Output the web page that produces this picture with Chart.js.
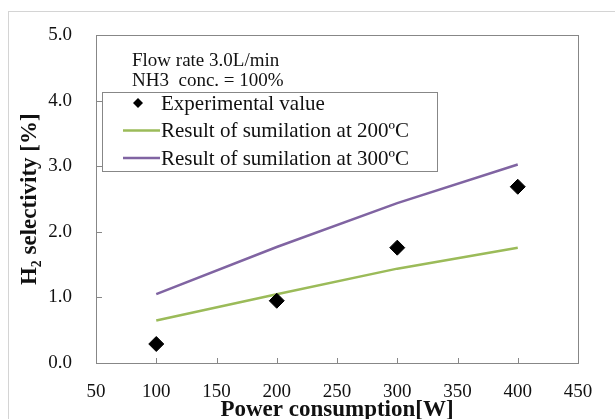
<!DOCTYPE html>
<html>
<head>
<meta charset="utf-8">
<script src="https://cdn.jsdelivr.net/npm/chart.js@4/dist/chart.umd.min.js"></script>
<style>
  html, body { margin: 0; padding: 0; background: #fff; }
  #wrap { position: relative; width: 615px; height: 419px; }
</style>
</head>
<body>
<div id="wrap"><canvas id="chart" width="615" height="419"></canvas></div>
<script>
// H2 selectivity vs power consumption

const SERIF = '"Liberation Serif", "Times New Roman", serif';

const power = [100, 200, 300, 400];
const experimental = [0.29, 0.95, 1.76, 2.69];
const sim200 = [0.65, 1.05, 1.44, 1.76];
const sim300 = [1.05, 1.77, 2.44, 3.03];

const labels = ['Experimental value', 'Result of sumilation at 200ºC', 'Result of sumilation at 300ºC'];
const notes = ['Flow rate 3.0L/min', 'NH3  conc. = 100%'];

const xTitle = 'Power consumption[W]';
const yTitle = 'H₂ selectivity [%]';

const pts = arr => power.map((p, i) => ({ x: p, y: arr[i] }));

// outer figure frame + plot frame, inward tick marks
const framePlugin = {
  id: 'frame',
  beforeDraw(chart) {
    const ctx = chart.ctx;
    ctx.save();
    ctx.strokeStyle = '#d4d4d4';
    ctx.lineWidth = 1;
    ctx.strokeRect(8.5, 11.5, 700, 500);
    ctx.restore();
  },
  afterDatasetsDraw(chart) {
    const { ctx, chartArea: a, scales } = chart;
    ctx.save();
    ctx.strokeStyle = '#878787';
    ctx.lineWidth = 1;
    ctx.strokeRect(Math.round(a.left) + 0.5, Math.round(a.top) + 0.5,
      Math.round(a.right - a.left), Math.round(a.bottom - a.top));
    ctx.beginPath();
    scales.x.ticks.forEach(t => {
      const x = Math.round(scales.x.getPixelForValue(t.value)) + 0.5;
      ctx.moveTo(x, a.bottom);
      ctx.lineTo(x, a.bottom - 5);
    });
    scales.y.ticks.forEach(t => {
      const y = Math.round(scales.y.getPixelForValue(t.value)) + 0.5;
      ctx.moveTo(a.left, y);
      ctx.lineTo(a.left + 6, y);
    });
    ctx.stroke();
    ctx.restore();
  },
  afterDraw(chart) {
    const { ctx, chartArea: a } = chart;
    ctx.save();
    // annotation text
    ctx.fillStyle = '#111';
    ctx.font = '19px ' + SERIF;
    ctx.textBaseline = 'alphabetic';
    ctx.fillText(notes[0], a.left + 36, 66);
    ctx.fillText(notes[1], a.left + 36, 86);

    // legend box
    const bx = a.left + 6, by = 92, bw = 335, bh = 79;
    ctx.fillStyle = '#fff';
    ctx.fillRect(bx, by, bw, bh);
    ctx.strokeStyle = '#878787';
    ctx.strokeRect(bx + 0.5, by + 0.5, bw, bh);
    ctx.font = '21px ' + SERIF;
    ctx.textBaseline = 'middle';
    chart.data.datasets.forEach((ds, i) => {
      const cy = by + 11 + i * 27.5;
      if (ds.showLine === false) {
        ctx.fillStyle = ds.pointBackgroundColor;
        ctx.beginPath();
        ctx.moveTo(bx + 36 - 5, cy);
        ctx.lineTo(bx + 36, cy - 5);
        ctx.lineTo(bx + 36 + 5, cy);
        ctx.lineTo(bx + 36, cy + 5);
        ctx.closePath();
        ctx.fill();
      } else {
        ctx.strokeStyle = ds.borderColor;
        ctx.lineWidth = 2.5;
        ctx.beginPath();
        ctx.moveTo(bx + 21, cy);
        ctx.lineTo(bx + 58, cy);
        ctx.stroke();
      }
      ctx.fillStyle = '#111';
      ctx.fillText(ds.label, bx + 59, cy + 1);
    });
    ctx.restore();
  }
};

new Chart(document.getElementById('chart'), {
  type: 'scatter',
  data: {
    datasets: [
      { label: labels[0], data: pts(experimental), showLine: false, pointStyle: 'rectRot', pointRadius: 7.5,
        pointBackgroundColor: '#000', pointBorderColor: '#000', borderColor: '#000' },
      { label: labels[1], data: pts(sim200), showLine: true, borderColor: '#9BBB59', borderWidth: 2.5,
        pointRadius: 0, tension: 0 },
      { label: labels[2], data: pts(sim300), showLine: true, borderColor: '#8064A2', borderWidth: 2.5,
        pointRadius: 0, tension: 0 }
    ]
  },
  options: {
    responsive: false,
    animation: false,
    layout: { padding: { left: 0, top: 29, right: 37, bottom: 0 } },
    plugins: { legend: { display: false }, tooltip: { enabled: false } },
    scales: {
      x: {
        type: 'linear', min: 50, max: 450,
        afterFit: s => { s.height = 56; },
        grid: { display: false, drawTicks: false },
        border: { display: false },
        ticks: { stepSize: 50, padding: 18, color: '#111', font: { family: SERIF, size: 19 } },
        title: { display: true, text: xTitle, color: '#111', padding: { top: 0, bottom: 0 },
          font: { family: SERIF, size: 23, weight: 'bold', lineHeight: 0.8 } }
      },
      y: {
        min: 0, max: 5,
        afterFit: s => { s.width = 96; },
        grid: { display: false, drawTicks: false },
        border: { display: false },
        ticks: { stepSize: 1, padding: 24, color: '#111', font: { family: SERIF, size: 19 },
          callback: v => v.toFixed(1) },
        title: { display: true, text: yTitle, color: '#111', padding: { top: 16, bottom: 0 },
          font: { family: SERIF, size: 23, weight: 'bold', lineHeight: 1.2 } }
      }
    }
  },
  plugins: [framePlugin]
});
</script>
</body>
</html>
